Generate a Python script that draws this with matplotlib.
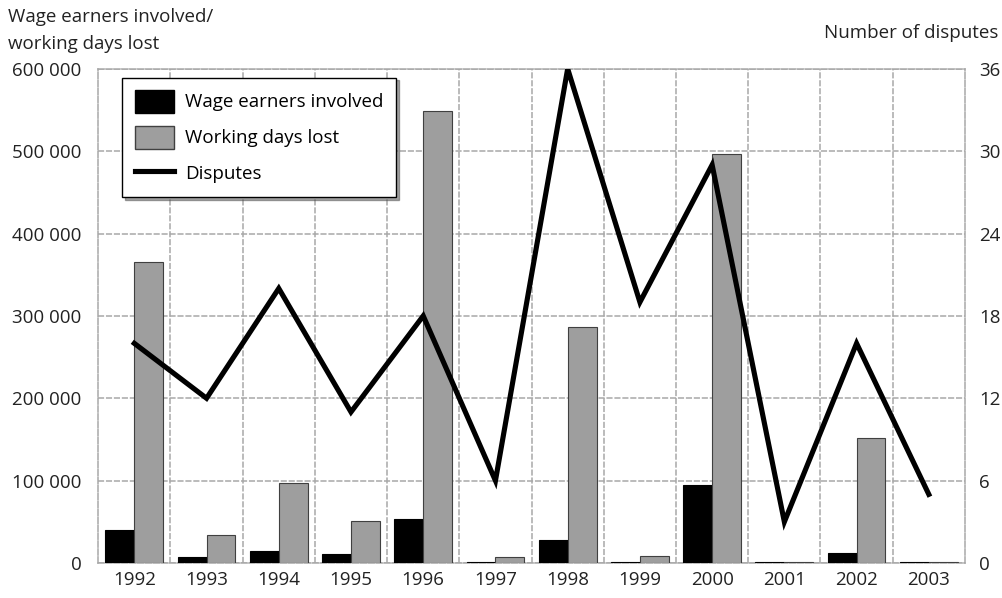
import numpy as np
import matplotlib.pyplot as plt
from matplotlib.ticker import FuncFormatter, MultipleLocator
from matplotlib.patches import Patch
from matplotlib.lines import Line2D

plt.rcParams['font.family'] = ['Open Sans', 'DejaVu Sans']

# Datos
years = ['1992', '1993', '1994', '1995', '1996', '1997',
         '1998', '1999', '2000', '2001', '2002', '2003']
wage_earners = [40000, 7000, 14500, 11000, 53000, 1000,
                28000, 1000, 95000, 1000, 12000, 1000]
days_lost = [365000, 34000, 97000, 51000, 549000, 7000,
             287000, 8000, 497000, 1200, 152000, 1200]
disputes = [16, 12, 20, 11, 18, 6, 36, 19, 29, 3, 16, 5]

grid_col = '#a8a8a8'
grid_ls = (0, (4, 1.2))
fs = 13.5

fig = plt.figure(figsize=(10.02, 5.98), dpi=100)
ax = fig.add_axes([0.098, 0.0585, 0.865, 0.8265])
x = np.arange(len(years))
w = 0.4

ax.bar(x - w / 2, wage_earners, width=w, color='black', edgecolor='black', linewidth=0.8, zorder=3)
ax.bar(x + w / 2, days_lost, width=w, color='#9e9e9e', edgecolor='#404040', linewidth=0.8, zorder=3)

ax.set_xlim(-0.5, len(years) - 0.5)
ax.set_ylim(0, 600000)
ax.yaxis.set_major_locator(MultipleLocator(100000))
ax.yaxis.set_major_formatter(FuncFormatter(lambda v, p: f'{int(v):,}'.replace(',', ' ')))
ax.set_xticks(x)
ax.set_xticklabels(years)
ax.set_xticks(np.arange(0.5, len(years) - 1, 1), minor=True)
ax.tick_params(axis='both', which='both', length=0, labelsize=fs, colors='#222222')
ax.tick_params(axis='x', pad=6)
ax.tick_params(axis='y', pad=12)
ax.grid(True, axis='y', which='major', color=grid_col, linestyle=grid_ls, linewidth=1.1, zorder=0)
ax.grid(True, axis='x', which='minor', color=grid_col, linestyle=grid_ls, linewidth=1.1, zorder=0)
ax.set_axisbelow(True)
for s in ax.spines.values():
    s.set_color(grid_col)
    s.set_linestyle(grid_ls)
    s.set_linewidth(1.1)

ax2 = ax.twinx()
ax2.plot(x, disputes, color='black', linewidth=3.7, solid_joinstyle='miter', zorder=4)
ax2.set_ylim(0, 36)
ax2.yaxis.set_major_locator(MultipleLocator(6))
ax2.tick_params(axis='y', length=0, labelsize=fs, colors='#222222', pad=10)
for s in ax2.spines.values():
    s.set_visible(False)

# Títulos de los ejes
fig.text(0.008, 1 - 17 / 598, 'Wage earners involved/', ha='left', va='center',
         fontsize=fs, color='#222222')
fig.text(0.008, 1 - 44 / 598, 'working days lost', ha='left', va='center',
         fontsize=fs, color='#222222')
fig.text(0.996, 1 - 33 / 598, 'Number of disputes', ha='right', va='center',
         fontsize=fs, color='#222222')

handles = [Patch(facecolor='black', edgecolor='black'),
           Patch(facecolor='#9e9e9e', edgecolor='#404040'),
           Line2D([0], [0], color='black', linewidth=3.7)]
labels = ['Wage earners involved', 'Working days lost', 'Disputes']
leg = ax2.legend(handles, labels, loc='upper left', bbox_to_anchor=(0.028, 0.982),
                 borderaxespad=0, fontsize=fs, frameon=True, fancybox=False, shadow=True,
                 edgecolor='black', framealpha=1, borderpad=0.65,
                 handlelength=2.1, handleheight=1.5, handletextpad=0.6, labelspacing=0.7)
leg.get_frame().set_linewidth(1.0)
leg.set_zorder(10)

fig.savefig('out.png', dpi=100)
